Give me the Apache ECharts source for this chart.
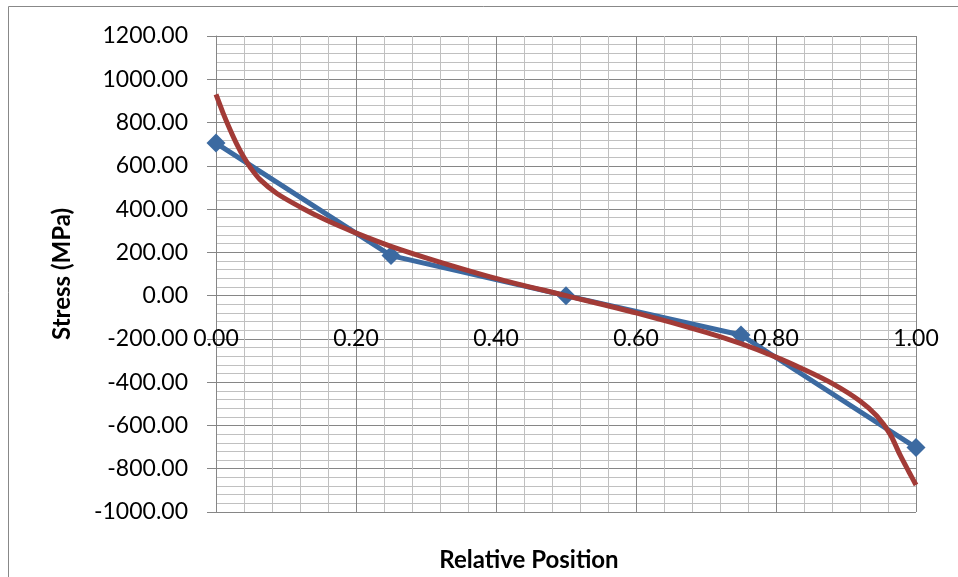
<!DOCTYPE html>
<html>
<head>
<meta charset="utf-8">
<script src="https://cdn.jsdelivr.net/npm/echarts@6/dist/echarts.min.js"></script>
<style>
html,body{margin:0;padding:0;background:#fff;}
#chart{width:958px;height:577px;}
</style>
</head>
<body>
<div id="chart"></div>
<script>
// Blue series: computed stress at sample points
const blueX = [0, 0.25, 0.5, 0.75, 1.0];
const blueY = [705, 185, 0, -182, -702];

// Red series: smooth stress distribution
const redX = [0, 0.01, 0.02, 0.03, 0.04, 0.05, 0.063, 0.087, 0.12, 0.158, 0.196, 0.25, 0.315, 0.4, 0.5, 0.6, 0.7, 0.75, 0.8, 0.839, 0.882, 0.92, 0.944, 0.963, 0.977, 0.99, 1.0];
const redY = [930, 845, 768, 698, 638, 588, 536, 472, 410, 348, 295, 228, 160, 80, 0, -80, -170, -222, -284, -340, -409, -487, -556, -640, -735, -815, -875];

const xAxisTitle = 'Relative Position';
const yAxisTitle = 'Stress (MPa)';

const FONT = 'Lato';
const chart = echarts.init(document.getElementById('chart'), null, {renderer: 'canvas'});

const zip = (xs, ys) => xs.map((x, i) => [x, ys[i]]);

const gridTop = 36, gridBottom = 65, H = 577;
const plotH = H - gridTop - gridBottom;
const yMin = -1000, yMax = 1200;
const zeroOffset = -plotH * (0 - yMin) / (yMax - yMin);

chart.setOption({
  animation: false,
  backgroundColor: '#ffffff',
  grid: {left: 216, top: gridTop, right: 42, bottom: gridBottom, containLabel: false},
  xAxis: {
    type: 'value', min: 0, max: 1, interval: 0.2,
    position: 'bottom', offset: zeroOffset,
    axisLine: {show: true, onZero: false, lineStyle: {color: '#868686', width: 1}},
    axisTick: {show: false},
    axisLabel: {margin: 31, color: '#000', fontFamily: FONT, fontSize: 23,
      formatter: v => v.toFixed(2)},
    splitLine: {show: true, lineStyle: {color: '#868686', width: 1}},
    minorTick: {show: false, splitNumber: 5},
    minorSplitLine: {show: true, lineStyle: {color: '#c0c0c0', width: 1}}
  },
  yAxis: {
    type: 'value', min: yMin, max: yMax, interval: 200,
    axisLine: {show: true, onZero: false, lineStyle: {color: '#868686', width: 1}},
    axisTick: {show: true, length: 9, lineStyle: {color: '#868686'}},
    axisLabel: {margin: 28, color: '#000', fontFamily: FONT, fontSize: 23,
      formatter: v => v.toFixed(2)},
    splitLine: {show: true, lineStyle: {color: '#868686', width: 1}},
    minorTick: {show: false, splitNumber: 5},
    minorSplitLine: {show: true, lineStyle: {color: '#c0c0c0', width: 1}}
  },
  series: [
    {
      type: 'line', data: zip(blueX, blueY),
      symbol: 'diamond', symbolSize: 19,
      lineStyle: {color: '#3C6AA1', width: 5},
      itemStyle: {color: '#3C6AA1'},
      z: 2
    },
    {
      type: 'line', data: zip(redX, redY),
      smooth: 0.3, showSymbol: false, symbol: 'none',
      lineStyle: {color: '#A23B37', width: 5},
      z: 3
    }
  ],
  graphic: [
    {type: 'rect', shape: {x: 8.5, y: 6.5, width: 1000, height: 1000},
      style: {fill: 'none', stroke: '#888888', lineWidth: 1}, silent: true},
    {type: 'text', x: 529, y: 560,
      style: {text: xAxisTitle, font: 'bold 24px ' + FONT, fill: '#000',
        textAlign: 'center', textVerticalAlign: 'middle'}},
    {type: 'text', x: 62, y: 274, rotation: Math.PI / 2,
      style: {text: yAxisTitle, font: 'bold 24px ' + FONT, fill: '#000',
        textAlign: 'center', textVerticalAlign: 'middle'}}
  ]
});
</script>
</body>
</html>
